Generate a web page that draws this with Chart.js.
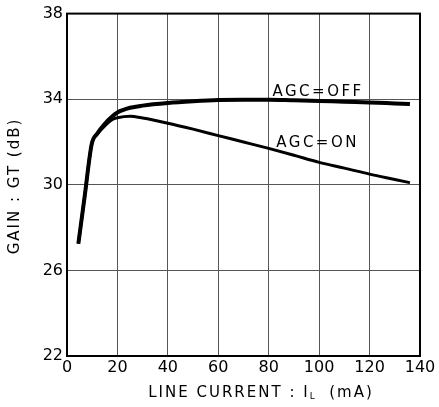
<!DOCTYPE html>
<html>
<head>
<meta charset="utf-8">
<script src="https://cdn.jsdelivr.net/npm/chart.js@4/dist/chart.umd.min.js"></script>
<style>
  html, body { margin: 0; padding: 0; background: #fff; }
  #wrap { width: 439px; height: 407px; position: relative; }
</style>
</head>
<body>
<div id="wrap"><canvas id="c"></canvas></div>
<script>
// Line current (mA) at which gain was sampled
const lineCurrent = [4.5, 7, 9.8, 12, 15, 18, 20, 25, 30, 40, 50, 60, 70, 80, 90, 100, 110, 120, 130, 136];
// Gain GT (dB) with AGC disabled
const gainAgcOff = [27.25, 29.45, 31.9, 32.4, 32.85, 33.2, 33.38, 33.6, 33.7, 33.82, 33.9, 33.96, 33.98, 33.98, 33.95, 33.92, 33.88, 33.85, 33.8, 33.77];
// Gain GT (dB) with AGC enabled
const gainAgcOn = [27.25, 29.45, 31.9, 32.35, 32.75, 33.05, 33.13, 33.2, 33.12, 32.88, 32.6, 32.3, 32.0, 31.7, 31.38, 31.05, 30.78, 30.5, 30.25, 30.1];

const xTicks = [0, 20, 40, 60, 80, 100, 120, 140];
const yTicks = [22, 26, 30, 34, 38];

const curveLabels = [
  { text: 'AGC=OFF', x: 81.5, y: 34.15 },
  { text: 'AGC=ON', x: 83, y: 31.75 }
];

const FONT = '"DejaVu Sans", sans-serif';

function toPoints(xs, ys) {
  return xs.map((x, i) => ({ x: x, y: ys[i] }));
}

function setFont(ctx, size, spacing) {
  ctx.font = size + 'px ' + FONT;
  ctx.letterSpacing = spacing + 'px';
}

const overlay = {
  id: 'overlay',
  afterDraw(chart) {
    const ctx = chart.ctx;
    const xs = chart.scales.x, ys = chart.scales.y;
    const a = chart.chartArea;
    ctx.save();
    // plot frame
    ctx.strokeStyle = '#000';
    ctx.lineWidth = 2;
    ctx.strokeRect(a.left, a.top, a.right - a.left, a.bottom - a.top);

    // curve labels
    ctx.fillStyle = '#000';
    ctx.textBaseline = 'alphabetic';
    ctx.textAlign = 'left';
    setFont(ctx, 15, 2.5);
    curveLabels.forEach(l => {
      ctx.fillText(l.text, xs.getPixelForValue(l.x), ys.getPixelForValue(l.y));
    });

    // x axis title with subscript L
    const base = 397;
    const p1 = 'LINE CURRENT : I';
    const sub = 'L';
    const p2 = '  (mA)';
    setFont(ctx, 15, 2);
    const w1 = ctx.measureText(p1).width;
    const w3 = ctx.measureText(p2).width;
    setFont(ctx, 9, 0);
    const w2 = ctx.measureText(sub).width + 1;
    const total = w1 + w2 + w3;
    const x0 = 261 - total / 2;
    setFont(ctx, 15, 2);
    ctx.fillText(p1, x0, base);
    setFont(ctx, 9, 0);
    ctx.fillText(sub, x0 + w1, base + 2);
    setFont(ctx, 15, 2);
    ctx.fillText(p2, x0 + w1 + w2, base);

    // y axis title, rotated
    ctx.save();
    ctx.translate(15, 186);
    ctx.rotate(-Math.PI / 2);
    ctx.textAlign = 'center';
    ctx.textBaseline = 'middle';
    setFont(ctx, 15, 2);
    ctx.fillText('GAIN : GT (dB)', 0, 0);
    ctx.restore();

    ctx.restore();
  }
};

new Chart(document.getElementById('c'), {
  type: 'line',
  data: {
    datasets: [
      {
        label: 'AGC=OFF',
        data: toPoints(lineCurrent, gainAgcOff),
        borderColor: '#000',
        borderWidth: 4,
        pointRadius: 0,
        cubicInterpolationMode: 'monotone',
        fill: false
      },
      {
        label: 'AGC=ON',
        data: toPoints(lineCurrent, gainAgcOn),
        borderColor: '#000',
        borderWidth: 3,
        pointRadius: 0,
        cubicInterpolationMode: 'monotone',
        fill: false
      }
    ]
  },
  options: {
    responsive: true,
    maintainAspectRatio: false,
    animation: false,
    layout: { padding: { top: 13, right: 19, left: 0, bottom: 0 } },
    plugins: { legend: { display: false }, tooltip: { enabled: false } },
    scales: {
      x: {
        type: 'linear',
        min: 0,
        max: 140,
        afterBuildTicks(scale) { scale.ticks = xTicks.map(v => ({ value: v })); },
        afterFit(scale) { scale.height = 51; },
        ticks: { color: '#000', font: { family: FONT, size: 16 }, padding: 2, maxRotation: 0 },
        grid: { color: '#555', lineWidth: 1, drawTicks: false },
        border: { display: false }
      },
      y: {
        type: 'linear',
        min: 22,
        max: 38,
        afterBuildTicks(scale) { scale.ticks = yTicks.map(v => ({ value: v })); },
        afterFit(scale) { scale.width = 67; },
        ticks: { color: '#000', font: { family: FONT, size: 16 }, padding: 4 },
        grid: { color: '#555', lineWidth: 1, drawTicks: false },
        border: { display: false }
      }
    }
  },
  plugins: [overlay]
});
</script>
</body>
</html>
